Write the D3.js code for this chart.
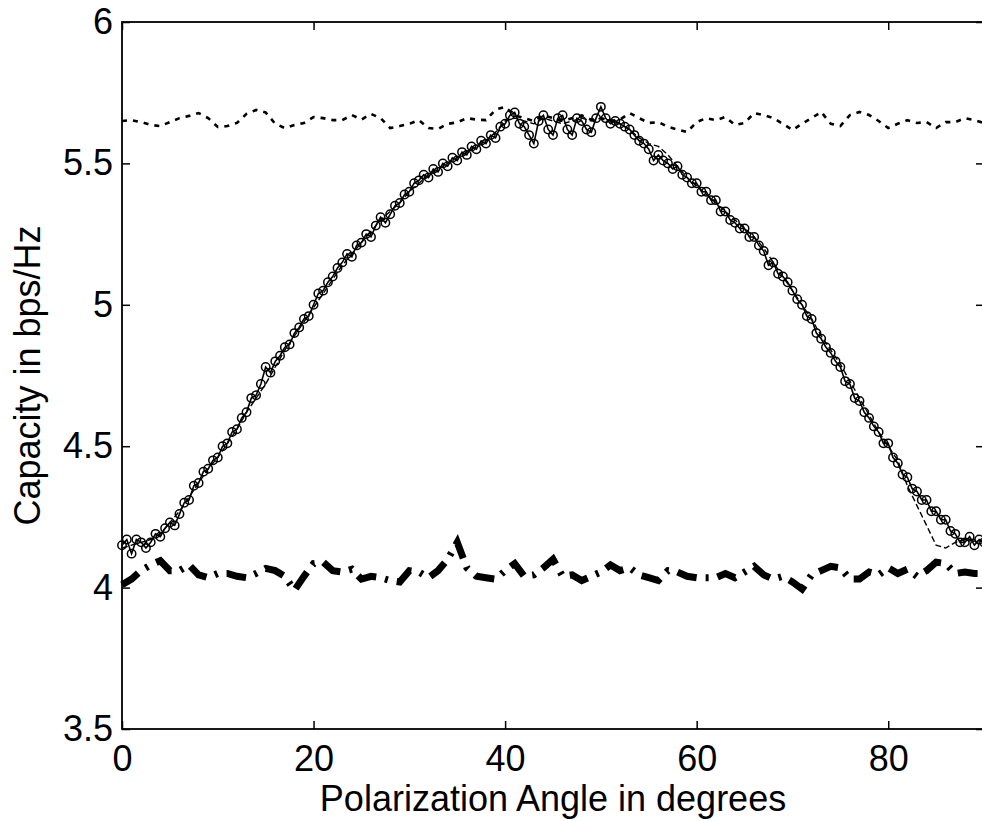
<!DOCTYPE html>
<html>
<head>
<meta charset="utf-8">
<script src="https://cdn.jsdelivr.net/npm/d3@7"></script>
<style>
  html, body { margin: 0; padding: 0; background: #fff; }
  svg { display: block; }
  text { font-family: "Liberation Sans", Arial, sans-serif; fill: #000; }
</style>
</head>
<body>
<div id="chart"></div>
<script>
// --- data ---
const xTicks = [0, 20, 40, 60, 80];
const yTicks = [3.5, 4, 4.5, 5, 5.5, 6];

// angles 0..90 step 1 (dotted top + thick dash-dot bottom + thin dashed)
const anglesDeg = d3.range(0, 91);
// angles 0..90 step 0.5 for the circle series
const anglesHalf = d3.range(0, 90.5, 0.5);

const topDotted = [
  5.650, 5.653, 5.646, 5.636, 5.632, 5.646, 5.660, 5.668, 5.678, 5.660,
  5.629, 5.632, 5.643, 5.675, 5.689, 5.680, 5.640, 5.625, 5.636, 5.643,
  5.664, 5.660, 5.653, 5.653, 5.671, 5.655, 5.675, 5.660, 5.625, 5.632,
  5.640, 5.653, 5.625, 5.622, 5.640, 5.645, 5.660, 5.655, 5.653, 5.690,
  5.700, 5.670, 5.660, 5.650, 5.670, 5.660, 5.650, 5.660, 5.670, 5.655,
  5.660, 5.650, 5.655, 5.678, 5.660, 5.643, 5.646, 5.629, 5.620, 5.611,
  5.646, 5.660, 5.653, 5.664, 5.636, 5.643, 5.678, 5.671, 5.660, 5.640,
  5.618, 5.640, 5.660, 5.682, 5.640, 5.632, 5.671, 5.682, 5.671, 5.650,
  5.625, 5.640, 5.653, 5.643, 5.646, 5.625, 5.646, 5.646, 5.660, 5.653,
  5.643
];

const bottomDashDot = [
  4.010, 4.030, 4.060, 4.080, 4.095, 4.060, 4.060, 4.080, 4.045, 4.035,
  4.050, 4.050, 4.040, 4.035, 4.050, 4.068, 4.060, 4.040, 3.990, 4.040,
  4.085, 4.090, 4.060, 4.055, 4.065, 4.030, 4.040, 4.035, 4.025, 4.020,
  4.060, 4.055, 4.035, 4.060, 4.100, 4.160, 4.070, 4.040, 4.035, 4.030,
  4.060, 4.085, 4.040, 4.045, 4.070, 4.100, 4.040, 4.045, 4.025, 4.040,
  4.055, 4.080, 4.060, 4.070, 4.045, 4.035, 4.025, 4.060, 4.055, 4.040,
  4.035, 4.035, 4.035, 4.050, 4.035, 4.055, 4.075, 4.045, 4.030, 4.040,
  4.020, 3.995, 4.045, 4.060, 4.075, 4.070, 4.030, 4.030, 4.055, 4.045,
  4.070, 4.050, 4.065, 4.040, 4.060, 4.090, 4.085, 4.050, 4.055, 4.050,
  4.050
];

const circleSeries = [
  4.15, 4.17, 4.12, 4.17, 4.16, 4.14, 4.16, 4.19, 4.18, 4.21,
  4.23, 4.22, 4.26, 4.30, 4.31, 4.36, 4.37, 4.41, 4.42, 4.45,
  4.46, 4.50, 4.51, 4.55, 4.56, 4.60, 4.62, 4.67, 4.68, 4.72,
  4.78, 4.76, 4.80, 4.82, 4.85, 4.86, 4.90, 4.92, 4.95, 4.96,
  5.00, 5.04, 5.05, 5.08, 5.10, 5.13, 5.15, 5.18, 5.17, 5.21,
  5.22, 5.25, 5.24, 5.28, 5.31, 5.29, 5.32, 5.35, 5.36, 5.39,
  5.40, 5.43, 5.44, 5.46, 5.45, 5.48, 5.47, 5.50, 5.49, 5.52,
  5.51, 5.54, 5.53, 5.56, 5.55, 5.58, 5.57, 5.60, 5.59, 5.63,
  5.64, 5.67, 5.68, 5.64, 5.63, 5.60, 5.57, 5.65, 5.67, 5.62,
  5.60, 5.66, 5.67, 5.62, 5.60, 5.66, 5.65, 5.62, 5.61, 5.66,
  5.70, 5.66, 5.64, 5.65, 5.64, 5.63, 5.62, 5.60, 5.58, 5.57,
  5.55, 5.51, 5.53, 5.51, 5.50, 5.48, 5.49, 5.46, 5.45, 5.43,
  5.43, 5.40, 5.40, 5.37, 5.37, 5.33, 5.33, 5.30, 5.29, 5.27,
  5.27, 5.24, 5.24, 5.21, 5.19, 5.14, 5.15, 5.11, 5.10, 5.08,
  5.05, 5.02, 5.00, 4.96, 4.95, 4.90, 4.88, 4.85, 4.83, 4.80,
  4.78, 4.73, 4.72, 4.67, 4.66, 4.62, 4.60, 4.57, 4.55, 4.51,
  4.51, 4.46, 4.44, 4.40, 4.39, 4.35, 4.34, 4.31, 4.31, 4.27,
  4.27, 4.24, 4.24, 4.20, 4.19, 4.16, 4.16, 4.18, 4.15, 4.17,
  4.16
];

const dashedSeries = [
  4.14, 4.15, 4.16, 4.17, 4.19, 4.23, 4.27, 4.32, 4.37, 4.42,
  4.46, 4.51, 4.56, 4.62, 4.67, 4.72, 4.78, 4.84, 4.89, 4.94,
  4.99, 5.04, 5.09, 5.14, 5.18, 5.22, 5.26, 5.30, 5.33, 5.36,
  5.40, 5.43, 5.46, 5.48, 5.50, 5.52, 5.54, 5.56, 5.58, 5.61,
  5.65, 5.66, 5.65, 5.64, 5.66, 5.65, 5.64, 5.65, 5.66, 5.65,
  5.66, 5.65, 5.64, 5.62, 5.59, 5.57, 5.56, 5.53, 5.49, 5.45,
  5.42, 5.39, 5.36, 5.33, 5.30, 5.27, 5.24, 5.20, 5.15, 5.10,
  5.05, 5.00, 4.95, 4.89, 4.84, 4.79, 4.73, 4.67, 4.61, 4.55,
  4.50, 4.45, 4.36, 4.29, 4.22, 4.15, 4.14, 4.16, 4.17, 4.17,
  4.16
];

const xLabel = "Polarization Angle in degrees";
const yLabel = "Capacity in bps/Hz";

// --- layout ---
const width = 982, height = 821;
const plot = { left: 122, right: 984, top: 22, bottom: 729 };
const fontSize = 36;

const svg = d3.select("#chart").append("svg")
    .attr("width", width)
    .attr("height", height);

const x = d3.scaleLinear().domain([0, 90]).range([plot.left, plot.right]);
const y = d3.scaleLinear().domain([3.5, 6]).range([plot.bottom, plot.top]);

function zip(xs, ys) {
    return xs.map((a, i) => ({ a, v: ys[i] }));
}

const line = d3.line().x(d => x(d.a)).y(d => y(d.v));

// top dotted curve
svg.append("path")
    .datum(zip(anglesDeg, topDotted))
    .attr("d", line)
    .attr("fill", "none")
    .attr("stroke", "#000")
    .attr("stroke-width", 2.6)
    .attr("stroke-dasharray", "5,6");

// thick dash-dot curve at the bottom
svg.append("path")
    .datum(zip(anglesDeg, bottomDashDot))
    .attr("d", line)
    .attr("fill", "none")
    .attr("stroke", "#000")
    .attr("stroke-width", 7)
    .attr("stroke-dasharray", "20,9,3,9");

// thin dashed curve
svg.append("path")
    .datum(zip(anglesDeg, dashedSeries))
    .attr("d", line)
    .attr("fill", "none")
    .attr("stroke", "#000")
    .attr("stroke-width", 1.4)
    .attr("stroke-dasharray", "6,3");

// solid line with circle markers
const circData = zip(anglesHalf, circleSeries);
svg.append("path")
    .datum(circData)
    .attr("d", line)
    .attr("fill", "none")
    .attr("stroke", "#000")
    .attr("stroke-width", 1.6);

svg.append("g").selectAll("circle")
    .data(circData)
    .enter()
    .append("circle")
    .attr("cx", d => x(d.a))
    .attr("cy", d => y(d.v))
    .attr("r", 4.2)
    .attr("fill", "none")
    .attr("stroke", "#000")
    .attr("stroke-width", 1.5);

// axes, MATLAB style ticks pointing inwards
const tickLen = 8;
const fmt = d => String(d);

svg.append("g")
    .attr("transform", `translate(0,${plot.bottom})`)
    .call(d3.axisBottom(x).tickValues(xTicks).tickFormat(fmt)
        .tickSizeInner(-tickLen).tickSizeOuter(0).tickPadding(16));

svg.append("g")
    .attr("transform", `translate(${plot.left},0)`)
    .call(d3.axisLeft(y).tickValues(yTicks).tickFormat(fmt)
        .tickSizeInner(-tickLen).tickSizeOuter(0).tickPadding(9));

svg.append("g")
    .attr("transform", `translate(0,${plot.top})`)
    .call(d3.axisTop(x).tickValues(xTicks).tickFormat("")
        .tickSizeInner(-tickLen).tickSizeOuter(0));

svg.append("g")
    .attr("transform", `translate(${plot.right},0)`)
    .call(d3.axisRight(y).tickValues(yTicks).tickFormat("")
        .tickSizeInner(-tickLen).tickSizeOuter(0));

svg.selectAll(".domain").remove();
svg.selectAll(".tick line").attr("stroke", "#000").attr("stroke-width", 1.5);
svg.selectAll(".tick text")
    .style("font-size", fontSize + "px")
    .style("font-family", "'Liberation Sans', Arial, sans-serif")
    .attr("fill", "#000");

// box
svg.append("rect")
    .attr("x", plot.left)
    .attr("y", plot.top)
    .attr("width", plot.right - plot.left)
    .attr("height", plot.bottom - plot.top)
    .attr("fill", "none")
    .attr("stroke", "#000")
    .attr("stroke-width", 1.8);

// axis titles
svg.append("text")
    .attr("x", (plot.left + plot.right) / 2)
    .attr("y", 811)
    .attr("text-anchor", "middle")
    .style("font-size", fontSize + "px")
    .text(xLabel);

svg.append("text")
    .attr("transform", `translate(40,${(plot.top + plot.bottom) / 2}) rotate(-90)`)
    .attr("text-anchor", "middle")
    .style("font-size", fontSize + "px")
    .text(yLabel);
</script>
</body>
</html>
